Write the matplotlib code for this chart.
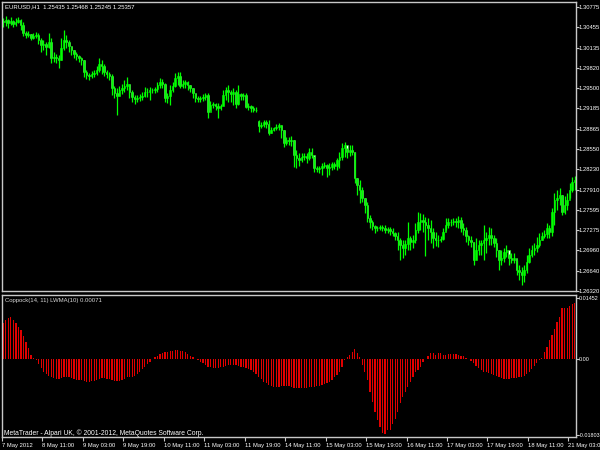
import numpy as np
import matplotlib
matplotlib.use("Agg")
import matplotlib.pyplot as plt

# EURUSD H1 bars, 7 May 2012 19:00 .. 21 May 2012
opens = [
    1.3055, 1.3054, 1.3057, 1.3052, 1.3056, 1.3051, 1.3054, 1.3057, 1.3049, 1.3037,
    1.3034, 1.3035, 1.3029, 1.3032, 1.3034, 1.3026, 1.3018, 1.3019, 1.3015, 1.3023,
    1.2998, 1.2999, 1.2998, 1.2994, 1.3013, 1.3026, 1.3023, 1.3016, 1.3010, 1.3004,
    1.3001, 1.2998, 1.2994, 1.2976, 1.2971, 1.2969, 1.2972, 1.2974, 1.2979, 1.2988,
    1.2985, 1.2976, 1.2972, 1.2969, 1.2950, 1.2943, 1.2938, 1.2947, 1.2950, 1.2954,
    1.2957, 1.2944, 1.2936, 1.2933, 1.2935, 1.2936, 1.2938, 1.2944, 1.2944, 1.2947,
    1.2947, 1.2949, 1.2955, 1.2960, 1.2957, 1.2935, 1.2938, 1.2947, 1.2954, 1.2966,
    1.2969, 1.2954, 1.2957, 1.2960, 1.2955, 1.2950, 1.2943, 1.2935, 1.2933, 1.2935,
    1.2936, 1.2939, 1.2913, 1.2924, 1.2925, 1.2922, 1.2919, 1.2922, 1.2939, 1.2947,
    1.2944, 1.2941, 1.2944, 1.2925, 1.2941, 1.2938, 1.2939, 1.2921, 1.2922, 1.2919,
    1.2916, 1.2898, 1.2891, 1.2892, 1.2897, 1.2894, 1.2880, 1.2885, 1.2888, 1.2889,
    1.2892, 1.2885, 1.2864, 1.2869, 1.2867, 1.2869, 1.2845, 1.2841, 1.2838, 1.2842,
    1.2844, 1.2841, 1.2850, 1.2845, 1.2825, 1.2823, 1.2825, 1.2828, 1.2830, 1.2825,
    1.2827, 1.2831, 1.2828, 1.2838, 1.2842, 1.2856, 1.2861, 1.2850, 1.2853, 1.2850,
    1.2809, 1.2798, 1.2790, 1.2778, 1.2767, 1.2746, 1.2740, 1.2734, 1.2731, 1.2731,
    1.2732, 1.2731, 1.2728, 1.2729, 1.2726, 1.2723, 1.2718, 1.2712, 1.2704, 1.2699,
    1.2706, 1.2715, 1.2709, 1.2712, 1.2728, 1.2740, 1.2743, 1.2740, 1.2735, 1.2731,
    1.2725, 1.2715, 1.2712, 1.2712, 1.2714, 1.2725, 1.2735, 1.2740, 1.2740, 1.2742,
    1.2740, 1.2743, 1.2731, 1.2728, 1.2718, 1.2712, 1.2709, 1.2681, 1.2696, 1.2704,
    1.2707, 1.2712, 1.2715, 1.2720, 1.2715, 1.2707, 1.2696, 1.2681, 1.2684, 1.2693,
    1.2696, 1.2684, 1.2681, 1.2684, 1.2665, 1.2662, 1.2657, 1.2665, 1.2677, 1.2688,
    1.2696, 1.2699, 1.2704, 1.2712, 1.2718, 1.2721, 1.2731, 1.2725, 1.2756, 1.2775,
    1.2778, 1.2783, 1.2756, 1.2767, 1.2775, 1.2790, 1.2803,
]
highs = [
    1.3060, 1.3063, 1.3059, 1.3062, 1.3057, 1.3060, 1.3062, 1.3059, 1.3054, 1.3040,
    1.3040, 1.3035, 1.3037, 1.3038, 1.3037, 1.3029, 1.3026, 1.3023, 1.3037, 1.3029,
    1.3007, 1.3004, 1.3002, 1.3029, 1.3041, 1.3034, 1.3026, 1.3015, 1.3010, 1.3007,
    1.3002, 1.2999, 1.2995, 1.2979, 1.2974, 1.2977, 1.2979, 1.2985, 1.2998, 1.2994,
    1.2988, 1.2979, 1.2976, 1.2972, 1.2954, 1.2950, 1.2954, 1.2957, 1.2963, 1.2968,
    1.2957, 1.2947, 1.2939, 1.2939, 1.2941, 1.2944, 1.2952, 1.2950, 1.2952, 1.2950,
    1.2952, 1.2960, 1.2966, 1.2965, 1.2958, 1.2943, 1.2955, 1.2960, 1.2974, 1.2976,
    1.2976, 1.2963, 1.2963, 1.2961, 1.2955, 1.2950, 1.2941, 1.2938, 1.2938, 1.2941,
    1.2943, 1.2943, 1.2930, 1.2928, 1.2927, 1.2927, 1.2925, 1.2947, 1.2952, 1.2955,
    1.2947, 1.2950, 1.2947, 1.2955, 1.2943, 1.2943, 1.2943, 1.2927, 1.2924, 1.2922,
    1.2921, 1.2900, 1.2897, 1.2900, 1.2900, 1.2900, 1.2889, 1.2889, 1.2894, 1.2896,
    1.2892, 1.2885, 1.2874, 1.2874, 1.2875, 1.2869, 1.2853, 1.2848, 1.2848, 1.2848,
    1.2848, 1.2856, 1.2856, 1.2844, 1.2828, 1.2828, 1.2833, 1.2834, 1.2831, 1.2833,
    1.2834, 1.2834, 1.2841, 1.2850, 1.2864, 1.2866, 1.2856, 1.2861, 1.2861, 1.2850,
    1.2809, 1.2806, 1.2795, 1.2778, 1.2772, 1.2751, 1.2743, 1.2736, 1.2734, 1.2736,
    1.2736, 1.2736, 1.2732, 1.2732, 1.2731, 1.2725, 1.2725, 1.2715, 1.2712, 1.2712,
    1.2740, 1.2718, 1.2720, 1.2739, 1.2756, 1.2754, 1.2753, 1.2748, 1.2747, 1.2743,
    1.2731, 1.2725, 1.2720, 1.2718, 1.2731, 1.2747, 1.2747, 1.2745, 1.2747, 1.2747,
    1.2750, 1.2748, 1.2739, 1.2732, 1.2720, 1.2718, 1.2709, 1.2715, 1.2712, 1.2712,
    1.2736, 1.2725, 1.2732, 1.2731, 1.2720, 1.2715, 1.2696, 1.2696, 1.2699, 1.2704,
    1.2690, 1.2692, 1.2692, 1.2681, 1.2673, 1.2670, 1.2673, 1.2688, 1.2699, 1.2704,
    1.2707, 1.2717, 1.2723, 1.2725, 1.2728, 1.2739, 1.2736, 1.2762, 1.2786, 1.2790,
    1.2794, 1.2783, 1.2781, 1.2786, 1.2801, 1.2811, 1.2812,
]
lows = [
    1.3046, 1.3048, 1.3045, 1.3049, 1.3046, 1.3048, 1.3052, 1.3041, 1.3032, 1.3029,
    1.3030, 1.3026, 1.3027, 1.3029, 1.3019, 1.3007, 1.3010, 1.3002, 1.3013, 1.2990,
    1.2991, 1.2990, 1.2982, 1.2994, 1.3010, 1.3013, 1.3007, 1.3002, 1.2998, 1.2994,
    1.2991, 1.2987, 1.2968, 1.2965, 1.2963, 1.2966, 1.2968, 1.2971, 1.2976, 1.2972,
    1.2969, 1.2966, 1.2963, 1.2939, 1.2935, 1.2908, 1.2938, 1.2941, 1.2944, 1.2947,
    1.2935, 1.2928, 1.2925, 1.2928, 1.2930, 1.2932, 1.2936, 1.2936, 1.2932, 1.2943,
    1.2943, 1.2944, 1.2950, 1.2950, 1.2928, 1.2927, 1.2924, 1.2944, 1.2952, 1.2955,
    1.2950, 1.2950, 1.2950, 1.2947, 1.2944, 1.2935, 1.2928, 1.2928, 1.2928, 1.2930,
    1.2932, 1.2903, 1.2916, 1.2919, 1.2916, 1.2903, 1.2916, 1.2924, 1.2932, 1.2928,
    1.2928, 1.2924, 1.2919, 1.2924, 1.2932, 1.2932, 1.2919, 1.2916, 1.2913, 1.2913,
    1.2913, 1.2881, 1.2888, 1.2889, 1.2888, 1.2877, 1.2880, 1.2883, 1.2885, 1.2885,
    1.2872, 1.2858, 1.2861, 1.2861, 1.2859, 1.2827, 1.2825, 1.2828, 1.2834, 1.2838,
    1.2833, 1.2838, 1.2841, 1.2819, 1.2819, 1.2817, 1.2814, 1.2825, 1.2811, 1.2814,
    1.2822, 1.2824, 1.2822, 1.2825, 1.2838, 1.2842, 1.2841, 1.2844, 1.2845, 1.2801,
    1.2783, 1.2770, 1.2772, 1.2754, 1.2740, 1.2731, 1.2728, 1.2723, 1.2726, 1.2728,
    1.2726, 1.2723, 1.2723, 1.2720, 1.2718, 1.2712, 1.2696, 1.2681, 1.2684, 1.2688,
    1.2696, 1.2696, 1.2699, 1.2707, 1.2723, 1.2728, 1.2725, 1.2687, 1.2712, 1.2707,
    1.2699, 1.2703, 1.2701, 1.2709, 1.2712, 1.2728, 1.2731, 1.2734, 1.2736, 1.2732,
    1.2731, 1.2725, 1.2720, 1.2709, 1.2704, 1.2701, 1.2673, 1.2685, 1.2688, 1.2688,
    1.2681, 1.2692, 1.2704, 1.2704, 1.2701, 1.2685, 1.2665, 1.2673, 1.2677, 1.2685,
    1.2673, 1.2676, 1.2676, 1.2657, 1.2649, 1.2641, 1.2646, 1.2660, 1.2676, 1.2685,
    1.2688, 1.2693, 1.2701, 1.2712, 1.2715, 1.2715, 1.2715, 1.2718, 1.2735, 1.2759,
    1.2767, 1.2751, 1.2753, 1.2759, 1.2778, 1.2787, 1.2790,
]
closes = [
    1.3054, 1.3057, 1.3052, 1.3056, 1.3051, 1.3054, 1.3057, 1.3049, 1.3037, 1.3034,
    1.3035, 1.3029, 1.3032, 1.3034, 1.3026, 1.3018, 1.3019, 1.3015, 1.3023, 1.2998,
    1.2999, 1.2998, 1.2994, 1.3013, 1.3026, 1.3023, 1.3016, 1.3010, 1.3004, 1.3001,
    1.2998, 1.2994, 1.2976, 1.2971, 1.2969, 1.2972, 1.2974, 1.2979, 1.2988, 1.2985,
    1.2976, 1.2972, 1.2969, 1.2950, 1.2943, 1.2938, 1.2947, 1.2950, 1.2954, 1.2957,
    1.2944, 1.2936, 1.2933, 1.2935, 1.2936, 1.2938, 1.2944, 1.2944, 1.2947, 1.2947,
    1.2949, 1.2955, 1.2960, 1.2957, 1.2935, 1.2938, 1.2947, 1.2954, 1.2966, 1.2969,
    1.2954, 1.2957, 1.2960, 1.2955, 1.2950, 1.2943, 1.2935, 1.2933, 1.2935, 1.2936,
    1.2939, 1.2913, 1.2924, 1.2925, 1.2922, 1.2919, 1.2922, 1.2939, 1.2947, 1.2944,
    1.2941, 1.2944, 1.2925, 1.2941, 1.2938, 1.2939, 1.2921, 1.2922, 1.2919, 1.2916,
    1.2916, 1.2891, 1.2892, 1.2897, 1.2894, 1.2880, 1.2885, 1.2888, 1.2889, 1.2892,
    1.2885, 1.2864, 1.2869, 1.2867, 1.2869, 1.2845, 1.2841, 1.2838, 1.2842, 1.2844,
    1.2841, 1.2850, 1.2845, 1.2825, 1.2823, 1.2825, 1.2828, 1.2830, 1.2825, 1.2827,
    1.2831, 1.2828, 1.2838, 1.2842, 1.2856, 1.2861, 1.2850, 1.2853, 1.2850, 1.2809,
    1.2798, 1.2790, 1.2778, 1.2767, 1.2746, 1.2740, 1.2734, 1.2731, 1.2731, 1.2732,
    1.2731, 1.2728, 1.2729, 1.2726, 1.2723, 1.2718, 1.2712, 1.2704, 1.2699, 1.2706,
    1.2715, 1.2709, 1.2712, 1.2728, 1.2740, 1.2743, 1.2740, 1.2735, 1.2731, 1.2725,
    1.2715, 1.2712, 1.2712, 1.2714, 1.2725, 1.2735, 1.2740, 1.2740, 1.2742, 1.2740,
    1.2743, 1.2731, 1.2728, 1.2718, 1.2712, 1.2709, 1.2681, 1.2696, 1.2704, 1.2707,
    1.2712, 1.2715, 1.2720, 1.2715, 1.2707, 1.2696, 1.2681, 1.2684, 1.2693, 1.2696,
    1.2684, 1.2681, 1.2684, 1.2665, 1.2662, 1.2657, 1.2665, 1.2677, 1.2688, 1.2696,
    1.2699, 1.2704, 1.2712, 1.2718, 1.2721, 1.2731, 1.2725, 1.2756, 1.2775, 1.2778,
    1.2783, 1.2756, 1.2767, 1.2775, 1.2790, 1.2803, 1.2806,
]
# Coppock(14, 11) histogram
coppock = [
    0.0086, 0.0093, 0.0098, 0.0100, 0.0093, 0.0086, 0.0076, 0.0069, 0.0055, 0.0041,
    0.0026, 0.0010, 0.0002, -0.0003, -0.0012, -0.0022, -0.0030, -0.0036, -0.0040, -0.0044,
    -0.0046, -0.0048, -0.0048, -0.0046, -0.0044, -0.0043, -0.0044, -0.0046, -0.0048, -0.0050,
    -0.0050, -0.0050, -0.0052, -0.0054, -0.0054, -0.0053, -0.0052, -0.0050, -0.0048, -0.0046,
    -0.0046, -0.0047, -0.0048, -0.0050, -0.0052, -0.0053, -0.0052, -0.0050, -0.0047, -0.0044,
    -0.0043, -0.0042, -0.0040, -0.0036, -0.0030, -0.0024, -0.0018, -0.0012, -0.0006, -0.0001,
    0.0004, 0.0008, 0.0012, 0.0015, 0.0016, 0.0017, 0.0018, 0.0020, 0.0022, 0.0022,
    0.0020, 0.0018, 0.0016, 0.0012, 0.0008, 0.0004, 0.0001, -0.0003, -0.0006, -0.0010,
    -0.0014, -0.0018, -0.0020, -0.0022, -0.0022, -0.0021, -0.0020, -0.0018, -0.0016, -0.0015,
    -0.0014, -0.0014, -0.0015, -0.0016, -0.0018, -0.0020, -0.0022, -0.0024, -0.0026, -0.0030,
    -0.0036, -0.0042, -0.0048, -0.0054, -0.0058, -0.0062, -0.0064, -0.0066, -0.0066, -0.0066,
    -0.0065, -0.0064, -0.0064, -0.0065, -0.0066, -0.0068, -0.0070, -0.0070, -0.0069, -0.0068,
    -0.0068, -0.0067, -0.0066, -0.0066, -0.0065, -0.0064, -0.0062, -0.0060, -0.0058, -0.0055,
    -0.0050, -0.0042, -0.0038, -0.0030, -0.0018, -0.0002, 0.0004, 0.0010, 0.0017, 0.0023,
    0.0015, 0.0004, -0.0014, -0.0030, -0.0050, -0.0078, -0.0102, -0.0126, -0.0146, -0.0162,
    -0.0176, -0.0178, -0.0170, -0.0170, -0.0154, -0.0142, -0.0126, -0.0106, -0.0090, -0.0078,
    -0.0066, -0.0054, -0.0042, -0.0030, -0.0026, -0.0018, -0.0006, -0.0001, 0.0007, 0.0014,
    0.0015, 0.0010, 0.0014, 0.0014, 0.0010, 0.0010, 0.0012, 0.0012, 0.0012, 0.0011,
    0.0010, 0.0008, 0.0006, 0.0003, 0.0000, -0.0004, -0.0010, -0.0016, -0.0022, -0.0026,
    -0.0030, -0.0032, -0.0034, -0.0036, -0.0038, -0.0040, -0.0044, -0.0046, -0.0048, -0.0048,
    -0.0047, -0.0046, -0.0046, -0.0046, -0.0044, -0.0042, -0.0040, -0.0036, -0.0030, -0.0024,
    -0.0016, -0.0009, -0.0003, 0.0002, 0.0017, 0.0029, 0.0045, 0.0057, 0.0072, 0.0089,
    0.0101, 0.0122, 0.0122, 0.0122, 0.0126, 0.0131, 0.0134,
]

price_ticks = [1.30775, 1.30455, 1.30135, 1.29820, 1.29500, 1.29185, 1.28865, 1.28550,
               1.28230, 1.27910, 1.27595, 1.27275, 1.26960, 1.26640, 1.26320]
ind_ticks = [0.01452, 0.0, -0.01803]
ind_tick_labels = ["0.01452", "0.00", "-0.01803"]
time_labels = ["7 May 2012", "8 May 11:00", "9 May 03:00", "9 May 19:00", "10 May 11:00",
               "11 May 03:00", "11 May 19:00", "14 May 11:00", "15 May 03:00", "15 May 19:00",
               "16 May 11:00", "17 May 03:00", "17 May 19:00", "18 May 11:00", "21 May 03:00"]
header = "EURUSD,H1  1.25435 1.25468 1.25245 1.25357"
ind_name = "Coppock(14, 11) LWMA(10) 0.00071"
footer = "MetaTrader - Alpari UK, \u00a9 2001-2012, MetaQuotes Software Corp."

plt.rcParams['font.family'] = ['Liberation Sans', 'DejaVu Sans']

o = np.array(opens)
h = np.array(highs)
l = np.array(lows)
c = np.array(closes)
x = np.arange(len(c))

fig = plt.figure(figsize=(6, 4.5), dpi=100, facecolor='black')
ax1 = fig.add_axes([2 / 600, 1 - 291 / 450, 574 / 600, 289 / 450], facecolor='black')
ax2 = fig.add_axes([2 / 600, 1 - 437 / 450, 574 / 600, 142 / 450], facecolor='black')

# candles: lime wicks, white bodies for falling bars
ax1.vlines(x, l, h, color='#00ff00', lw=0.9)
bear = c < o
ax1.bar(x[bear], (o - c)[bear], bottom=c[bear], width=0.6, color='white',
        edgecolor='#00ff00', lw=0.4)
ax1.bar(x[~bear], (c - o)[~bear], bottom=o[~bear], width=0.6, color='#00ff00',
        edgecolor='#00ff00', lw=0.4)
ax1.set_xlim(-0.4, 226.5)
ax1.set_ylim(1.26320, 1.30854)

# indicator histogram
ax2.bar(x, coppock, width=0.5, color='#e00000', lw=0)
ax2.set_xlim(-0.4, 226.5)
ax2.set_ylim(-0.0186, 0.01526)

for ax in (ax1, ax2):
    for s in ax.spines.values():
        s.set_color('#c8c8c8')
        s.set_linewidth(1)
    ax.yaxis.tick_right()
    ax.tick_params(axis='y', colors='#c8c8c8', labelcolor='white', labelsize=4.2,
                   length=2, width=0.8, pad=0)

ax1.set_yticks(price_ticks)
ax1.set_yticklabels(["%.5f" % p for p in price_ticks])
ax1.set_xticks([])

ax2.set_yticks(ind_ticks)
ax2.set_yticklabels(ind_tick_labels)
ax2.tick_params(axis='y', labelsize=3.9)
ax2.set_xticks(np.arange(0, len(c), 16)[:len(time_labels)] - 0.5)
ax2.set_xticklabels(time_labels)
ax2.tick_params(axis='x', colors='#c8c8c8', labelcolor='white', labelsize=4.2,
                length=3, width=0.8, pad=1.5)
for lbl in ax2.get_xticklabels():
    lbl.set_ha('left')

fig.text(5 / 600, 1 - 6.5 / 450, header, color='white', fontsize=4.3, va='center', ha='left')
fig.text(5 / 600, 1 - 300.5 / 450, ind_name, color='#d8d8d8', fontsize=4.3, va='center', ha='left')
fig.text(4 / 600, 1 - 433.5 / 450, footer, color='white', fontsize=4.9, va='center', ha='left')

fig.savefig('out.png', dpi=100, facecolor='black')
